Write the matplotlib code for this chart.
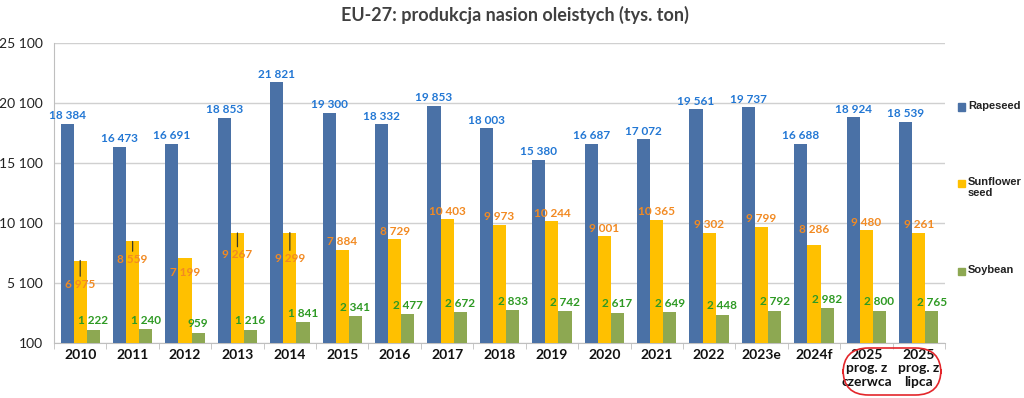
import numpy as np
import matplotlib
matplotlib.use('Agg')
import matplotlib.pyplot as plt
from matplotlib.patches import FancyBboxPatch, Rectangle

# data (tys. ton)
years = ['2010', '2011', '2012', '2013', '2014', '2015', '2016', '2017', '2018',
         '2019', '2020', '2021', '2022', '2023e', '2024f',
         '2025\nprog. z\nczerwca', '2025\nprog. z\nlipca']
rapeseed = [18384, 16473, 16691, 18853, 21821, 19300, 18332, 19853, 18003,
            15380, 16687, 17072, 19561, 19737, 16688, 18924, 18539]
sunflower = [6975, 8559, 7199, 9267, 9299, 7884, 8729, 10403, 9973,
             10244, 9001, 10365, 9302, 9799, 8286, 9480, 9261]
soybean = [1222, 1240, 959, 1216, 1841, 2341, 2477, 2672, 2833,
           2742, 2617, 2649, 2448, 2792, 2982, 2800, 2765]
yticks = [100, 5100, 10100, 15100, 20100, 25100]

# label placement for sunflower (pixels above bar top, negative = inside bar)
sun_off = [-24, -18, -15, -22, -26, 8, 8, 8, 8, 8, 8, 8, 8, 8, 15, 8, 9]
sun_leader = [True, True, False, True, True] + [False] * 12

c_rape, c_sun, c_soy = '#4A71A6', '#FFC000', '#8DA852'
l_rape, l_sun, l_soy = '#2277D4', '#F28A22', '#2E9A24'

FONT = ['Lato', 'DejaVu Sans']


def fmt(v):
    return '{:,}'.format(v).replace(',', ' ')


fig = plt.figure(figsize=(10.24, 3.98), dpi=100)
ax = fig.add_axes([54 / 1024, 1 - 343 / 398, 891 / 1024, 300 / 398])

x = np.arange(len(years))
w = 0.25
ax.bar(x - w, rapeseed, w, color=c_rape, zorder=3)
ax.bar(x, sunflower, w, color=c_sun, zorder=3)
ax.bar(x + w, soybean, w, color=c_soy, zorder=3)

ax.set_xlim(-0.5, len(years) - 0.5)
ax.set_ylim(100, 25100)
ax.set_yticks(yticks)
ax.set_yticklabels([fmt(t) for t in yticks], family=FONT, fontsize=10, color='#222222')
ax.set_xticks(x)
ax.set_xticklabels(years, family=FONT, fontsize=10, fontweight='bold', color='#111111',
                   linespacing=1.15)
ax.set_xticks(np.arange(len(years) + 1) - 0.5, minor=True)
ax.tick_params(axis='x', which='major', length=0, pad=4)
ax.tick_params(axis='x', which='minor', length=4, color='#BFBFBF', direction='out')
ax.tick_params(axis='y', length=0, pad=8)
ax.grid(axis='y', color='#D0D0D0', lw=1, zorder=0)
for s in ['top', 'right']:
    ax.spines[s].set_visible(False)
ax.spines['left'].set_color('#BFBFBF')
ax.spines['bottom'].set_color('#BFBFBF')

for i in range(len(years)):
    ax.annotate(fmt(rapeseed[i]), (x[i] - w, rapeseed[i]), xytext=(0, 8),
                textcoords='offset pixels', ha='center', va='center',
                family=FONT, fontsize=8.5, fontweight='bold', color=l_rape)
    ax.annotate(fmt(soybean[i]), (x[i] + w, soybean[i]), xytext=(0, 9),
                textcoords='offset pixels', ha='center', va='center',
                family=FONT, fontsize=8.5, fontweight='bold', color=l_soy)
    arrow = dict(arrowstyle='-', color='#3A3A2A', lw=0.9, shrinkA=0, shrinkB=0) if sun_leader[i] else None
    ax.annotate(fmt(sunflower[i]), (x[i], sunflower[i]), xytext=(0, sun_off[i]),
                textcoords='offset pixels', ha='center', va='center',
                family=FONT, fontsize=8.5, fontweight='bold', color=l_sun,
                arrowprops=arrow, zorder=5)

fig.text(515 / 1024, 1 - 15 / 398, 'EU-27: produkcja nasion oleistych (tys. ton)',
         ha='center', va='center', family=FONT, fontsize=13, fontweight='bold',
         color='#404040')

# legend
leg = [('Rapeseed', c_rape, 107), ('Sunflower\nseed', c_sun, 183), ('Soybean', c_soy, 271)]
for name, col, py in leg:
    fig.add_artist(Rectangle((958 / 1024, 1 - (py + 3.5) / 398), 7 / 1024, 7 / 398,
                             color=col, transform=fig.transFigure))
    fig.text(968 / 1024, 1 - (py - 6) / 398, name, ha='left', va='top',
             family=['Liberation Sans', 'DejaVu Sans'], fontsize=8, fontweight='bold',
             color='#222222', linespacing=1.1)

# highlight of the 2025 forecasts
fig.add_artist(FancyBboxPatch((843 / 1024, 1 - 395 / 398), 98 / 1024, 47 / 398,
                              boxstyle='round,pad=0,rounding_size=0.025',
                              transform=fig.transFigure, fill=False,
                              edgecolor='#E3262B', lw=1.2, mutation_aspect=1024 / 398))

fig.savefig('out.png', dpi=100)
